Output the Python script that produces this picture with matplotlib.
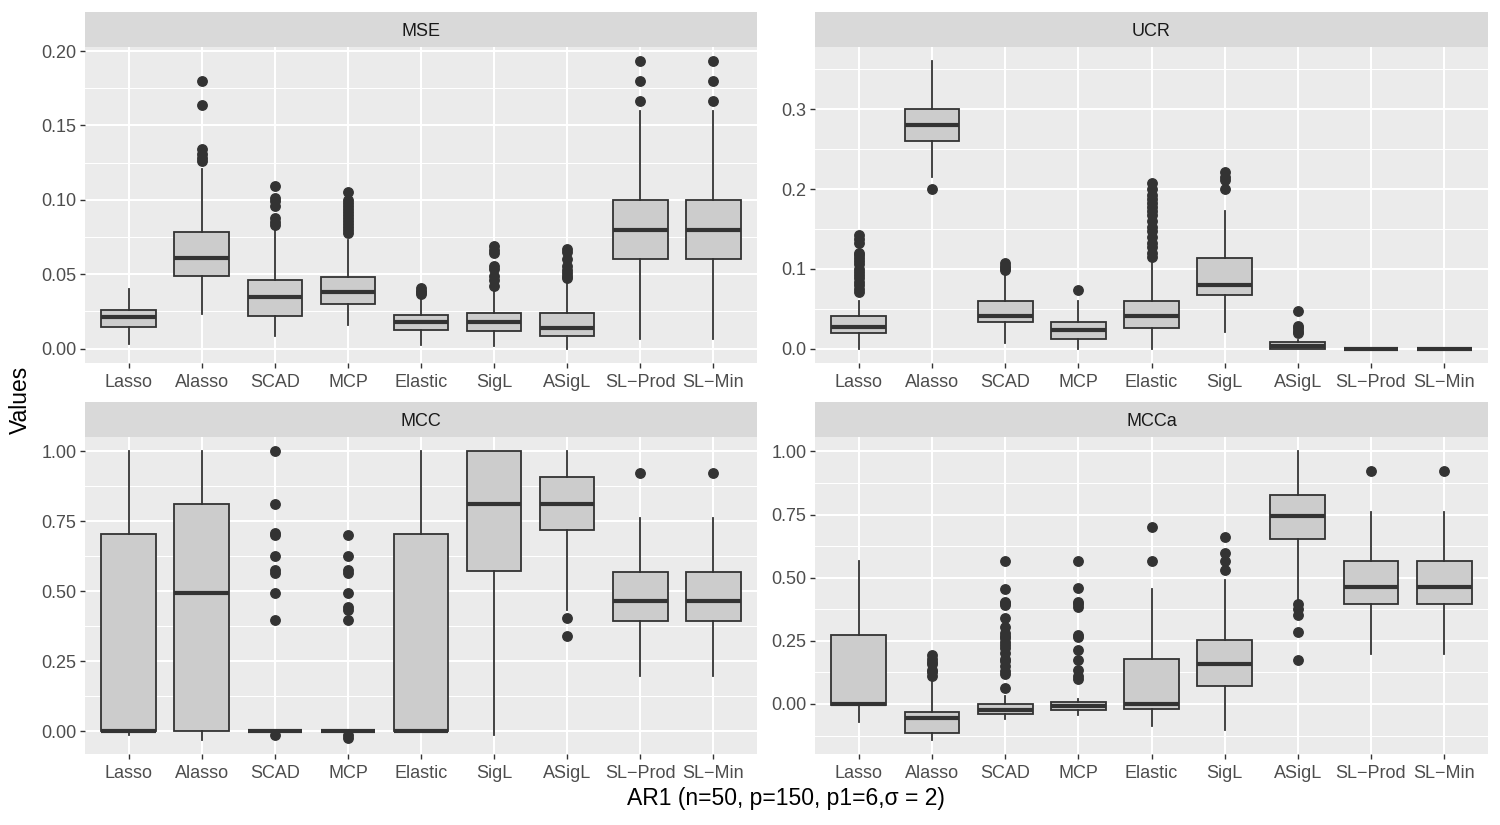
import numpy as np
import matplotlib
matplotlib.use("Agg")
import matplotlib.pyplot as plt

plt.rcParams['font.family'] = ['Liberation Sans', 'DejaVu Sans']

# methods on the x axis
methods = ["Lasso", "Alasso", "SCAD", "MCP", "Elastic", "SigL", "ASigL", "SL\u2212Prod", "SL\u2212Min"]

# MSE panel
mse_med = [0.021, 0.0606, 0.0345, 0.038, 0.0177, 0.0179, 0.0141, 0.080, 0.080]
mse_q1 = [0.0148, 0.0485, 0.0217, 0.030, 0.0123, 0.0121, 0.0085, 0.060, 0.060]
mse_q3 = [0.0262, 0.0785, 0.0463, 0.0483, 0.0224, 0.024, 0.0242, 0.100, 0.100]
mse_lo = [0.0031, 0.0235, 0.0083, 0.016, 0.0022, 0.0016, 0.0, 0.0067, 0.0067]
mse_hi = [0.0403, 0.1206, 0.081, 0.0727, 0.0336, 0.0385, 0.0463, 0.160, 0.160]
mse_out = [
    [],
    [0.180, 0.164, 0.134, 0.131, 0.128, 0.126],
    [0.109, 0.101, 0.099, 0.096, 0.088, 0.085, 0.083],
    [0.105, 0.100, 0.098, 0.096, 0.094, 0.092, 0.090, 0.088, 0.086, 0.084, 0.082, 0.080, 0.078],
    [0.0405, 0.039, 0.038, 0.037],
    [0.0687, 0.0664, 0.064, 0.0553, 0.0535, 0.0485, 0.0463, 0.0423],
    [0.0669, 0.0647, 0.0604, 0.0553, 0.053, 0.0508, 0.0485, 0.0475],
    [0.1933, 0.180, 0.1667],
    [0.1933, 0.180, 0.1667],
]

# UCR panel
ucr_med = [0.0267, 0.28, 0.0404, 0.0237, 0.0404, 0.080, 0.003, 0.0, 0.0]
ucr_q1 = [0.020, 0.26, 0.0329, 0.0125, 0.0262, 0.0667, 0.0, 0.0, 0.0]
ucr_q3 = [0.0404, 0.30, 0.060, 0.0337, 0.060, 0.1133, 0.0083, 0.0, 0.0]
ucr_lo = [0.0, 0.215, 0.007, 0.0, 0.0, 0.0208, 0.0, 0.0, 0.0]
ucr_hi = [0.060, 0.36, 0.0946, 0.060, 0.107, 0.173, 0.011, 0.0, 0.0]
ucr_out = [
    [0.142, 0.138, 0.133, 0.12, 0.117, 0.113, 0.11, 0.106, 0.1, 0.096, 0.092, 0.088, 0.083, 0.08, 0.075, 0.071],
    [0.20],
    [0.107, 0.104, 0.101, 0.099],
    [0.0737],
    [0.207, 0.2, 0.193, 0.188, 0.183, 0.178, 0.173, 0.167, 0.16, 0.153, 0.147, 0.14, 0.133, 0.127, 0.12, 0.115],
    [0.2217, 0.2154, 0.2113, 0.2],
    [0.0467, 0.028, 0.026, 0.0217, 0.0196],
    [],
    [],
]

# MCC panel
mcc_med = [0.0, 0.493, 0.0, 0.0, 0.0, 0.8126, 0.8115, 0.464, 0.464]
mcc_q1 = [0.0, 0.0, 0.0, 0.0, 0.0, 0.5716, 0.7196, 0.395, 0.395]
mcc_q3 = [0.704, 0.8126, 0.0, 0.0, 0.704, 1.0, 0.909, 0.568, 0.568]
mcc_lo = [-0.012, -0.03, 0.0, 0.0, 0.0, -0.014, 0.433, 0.197, 0.197]
mcc_hi = [1.0, 1.0, 0.0, 0.0, 1.0, 1.0, 1.0, 0.761, 0.761]
mcc_out = [
    [],
    [],
    [1.0, 0.8126, 0.7076, 0.70, 0.6265, 0.5764, 0.567, 0.495, 0.397, -0.014],
    [0.7017, 0.6265, 0.5764, 0.567, 0.495, 0.443, 0.433, 0.397, -0.014, -0.023],
    [],
    [],
    [0.403, 0.34],
    [0.922],
    [0.922],
]

# MCCa panel
mcca_med = [0.0, -0.054, -0.0225, -0.0066, -0.0013, 0.16, 0.7447, 0.464, 0.464]
mcca_q1 = [-0.004, -0.115, -0.038, -0.025, -0.0185, 0.0714, 0.652, 0.3955, 0.3955]
mcca_q3 = [0.2725, -0.032, 0.0, 0.008, 0.18, 0.2553, 0.8267, 0.5675, 0.5675]
mcca_lo = [-0.071, -0.1415, -0.058, -0.045, -0.0886, -0.1045, 0.411, 0.197, 0.197]
mcca_hi = [0.5675, 0.095, 0.03, 0.02, 0.455, 0.4907, 1.0, 0.762, 0.762]
mcca_out = [
    [],
    [0.193, 0.18, 0.165, 0.16, 0.135, 0.125, 0.11],
    [0.5675, 0.457, 0.405, 0.4, 0.39, 0.342, 0.305, 0.28, 0.27, 0.26, 0.245, 0.235, 0.22, 0.2, 0.18, 0.17,
     0.15, 0.13, 0.12, 0.065],
    [0.5675, 0.4577, 0.405, 0.3955, 0.382, 0.2725, 0.266, 0.2156, 0.176, 0.136, 0.11, 0.1005],
    [0.6997, 0.5675],
    [0.6627, 0.599, 0.5675, 0.53],
    [0.3955, 0.378, 0.352, 0.2857, 0.176],
    [0.9206],
    [0.9206],
]

W, H = 1500, 825
fig = plt.figure(figsize=(15, 8.25), dpi=100)

panels = [
    ("MSE", mse_med, mse_q1, mse_q3, mse_lo, mse_hi, mse_out,
     (85, 757, 47, 363), (-0.0097, 0.2027), np.arange(0, 0.201, 0.05), "{:.2f}"),
    ("UCR", ucr_med, ucr_q1, ucr_q3, ucr_lo, ucr_hi, ucr_out,
     (815, 1488, 47, 363), (-0.018, 0.378), np.arange(0, 0.31, 0.1), "{:.1f}"),
    ("MCC", mcc_med, mcc_q1, mcc_q3, mcc_lo, mcc_hi, mcc_out,
     (85, 757, 437, 754), (-0.0815, 1.0515), np.arange(0, 1.01, 0.25), "{:.2f}"),
    ("MCCa", mcca_med, mcca_q1, mcca_q3, mcca_lo, mcca_hi, mcca_out,
     (815, 1488, 437, 754), (-0.198, 1.057), np.arange(0, 1.01, 0.25), "{:.2f}"),
]

for name, med, q1, q3, lo, hi, out, (x0, x1, y0, y1), ylim, ticks, fmt in panels:
    ax = fig.add_axes([x0 / W, 1 - y1 / H, (x1 - x0) / W, (y1 - y0) / H])
    ax.set_facecolor("#EBEBEB")
    for s in ax.spines.values():
        s.set_visible(False)

    stats = []
    for i in range(len(methods)):
        stats.append(dict(med=med[i], q1=q1[i], q3=q3[i], whislo=lo[i], whishi=hi[i], fliers=out[i]))
    ax.bxp(stats, positions=np.arange(1, 10), widths=0.75, patch_artist=True, showcaps=False,
           boxprops=dict(facecolor="#CCCCCC", edgecolor="#333333", linewidth=1.3),
           medianprops=dict(color="#333333", linewidth=3.0, solid_capstyle="butt"),
           whiskerprops=dict(color="#333333", linewidth=1.3),
           flierprops=dict(marker="o", markersize=6.8, markerfacecolor="#333333",
                           markeredgecolor="#333333"),
           zorder=3)

    ax.set_xlim(0.4, 9.6)
    ax.set_ylim(*ylim)
    ax.set_xticks(np.arange(1, 10))
    ax.set_xticklabels(methods)
    ax.set_yticks(ticks)
    ax.set_yticklabels([fmt.format(t) for t in ticks])
    step = ticks[1] - ticks[0]
    minors = np.arange(ticks[0] - step / 2, ylim[1], step)
    minors = minors[(minors > ylim[0]) & (minors < ylim[1])]
    ax.set_yticks(minors, minor=True)
    ax.grid(which="major", color="white", linewidth=1.5, zorder=0)
    ax.grid(which="minor", axis="y", color="white", linewidth=0.75, zorder=0)
    ax.set_axisbelow(True)
    ax.tick_params(axis="both", which="major", length=3.6, width=1.0, color="#333333",
                   labelcolor="#4D4D4D", labelsize=13)
    ax.tick_params(axis="x", which="major", pad=4.5)
    ax.tick_params(axis="y", which="major", pad=2.5)
    ax.tick_params(axis="y", which="minor", length=0)

    sx = fig.add_axes([x0 / W, 1 - y0 / H, (x1 - x0) / W, 35 / H])
    sx.set_facecolor("#D9D9D9")
    sx.set_xticks([])
    sx.set_yticks([])
    for s in sx.spines.values():
        s.set_visible(False)
    sx.text(0.5, 0.44, name, ha="center", va="center", fontsize=13, color="#1A1A1A",
            transform=sx.transAxes)

fig.text(786 / W, 1 - 798 / H, "AR1 (n=50, p=150, p1=6,\u03c3 = 2)", ha="center", va="center",
         fontsize=16.5, color="black")
fig.text(20 / W, 1 - 400 / H, "Values", ha="center", va="center", rotation=90,
         fontsize=16.5, color="black")

fig.savefig("out.png", dpi=100)
